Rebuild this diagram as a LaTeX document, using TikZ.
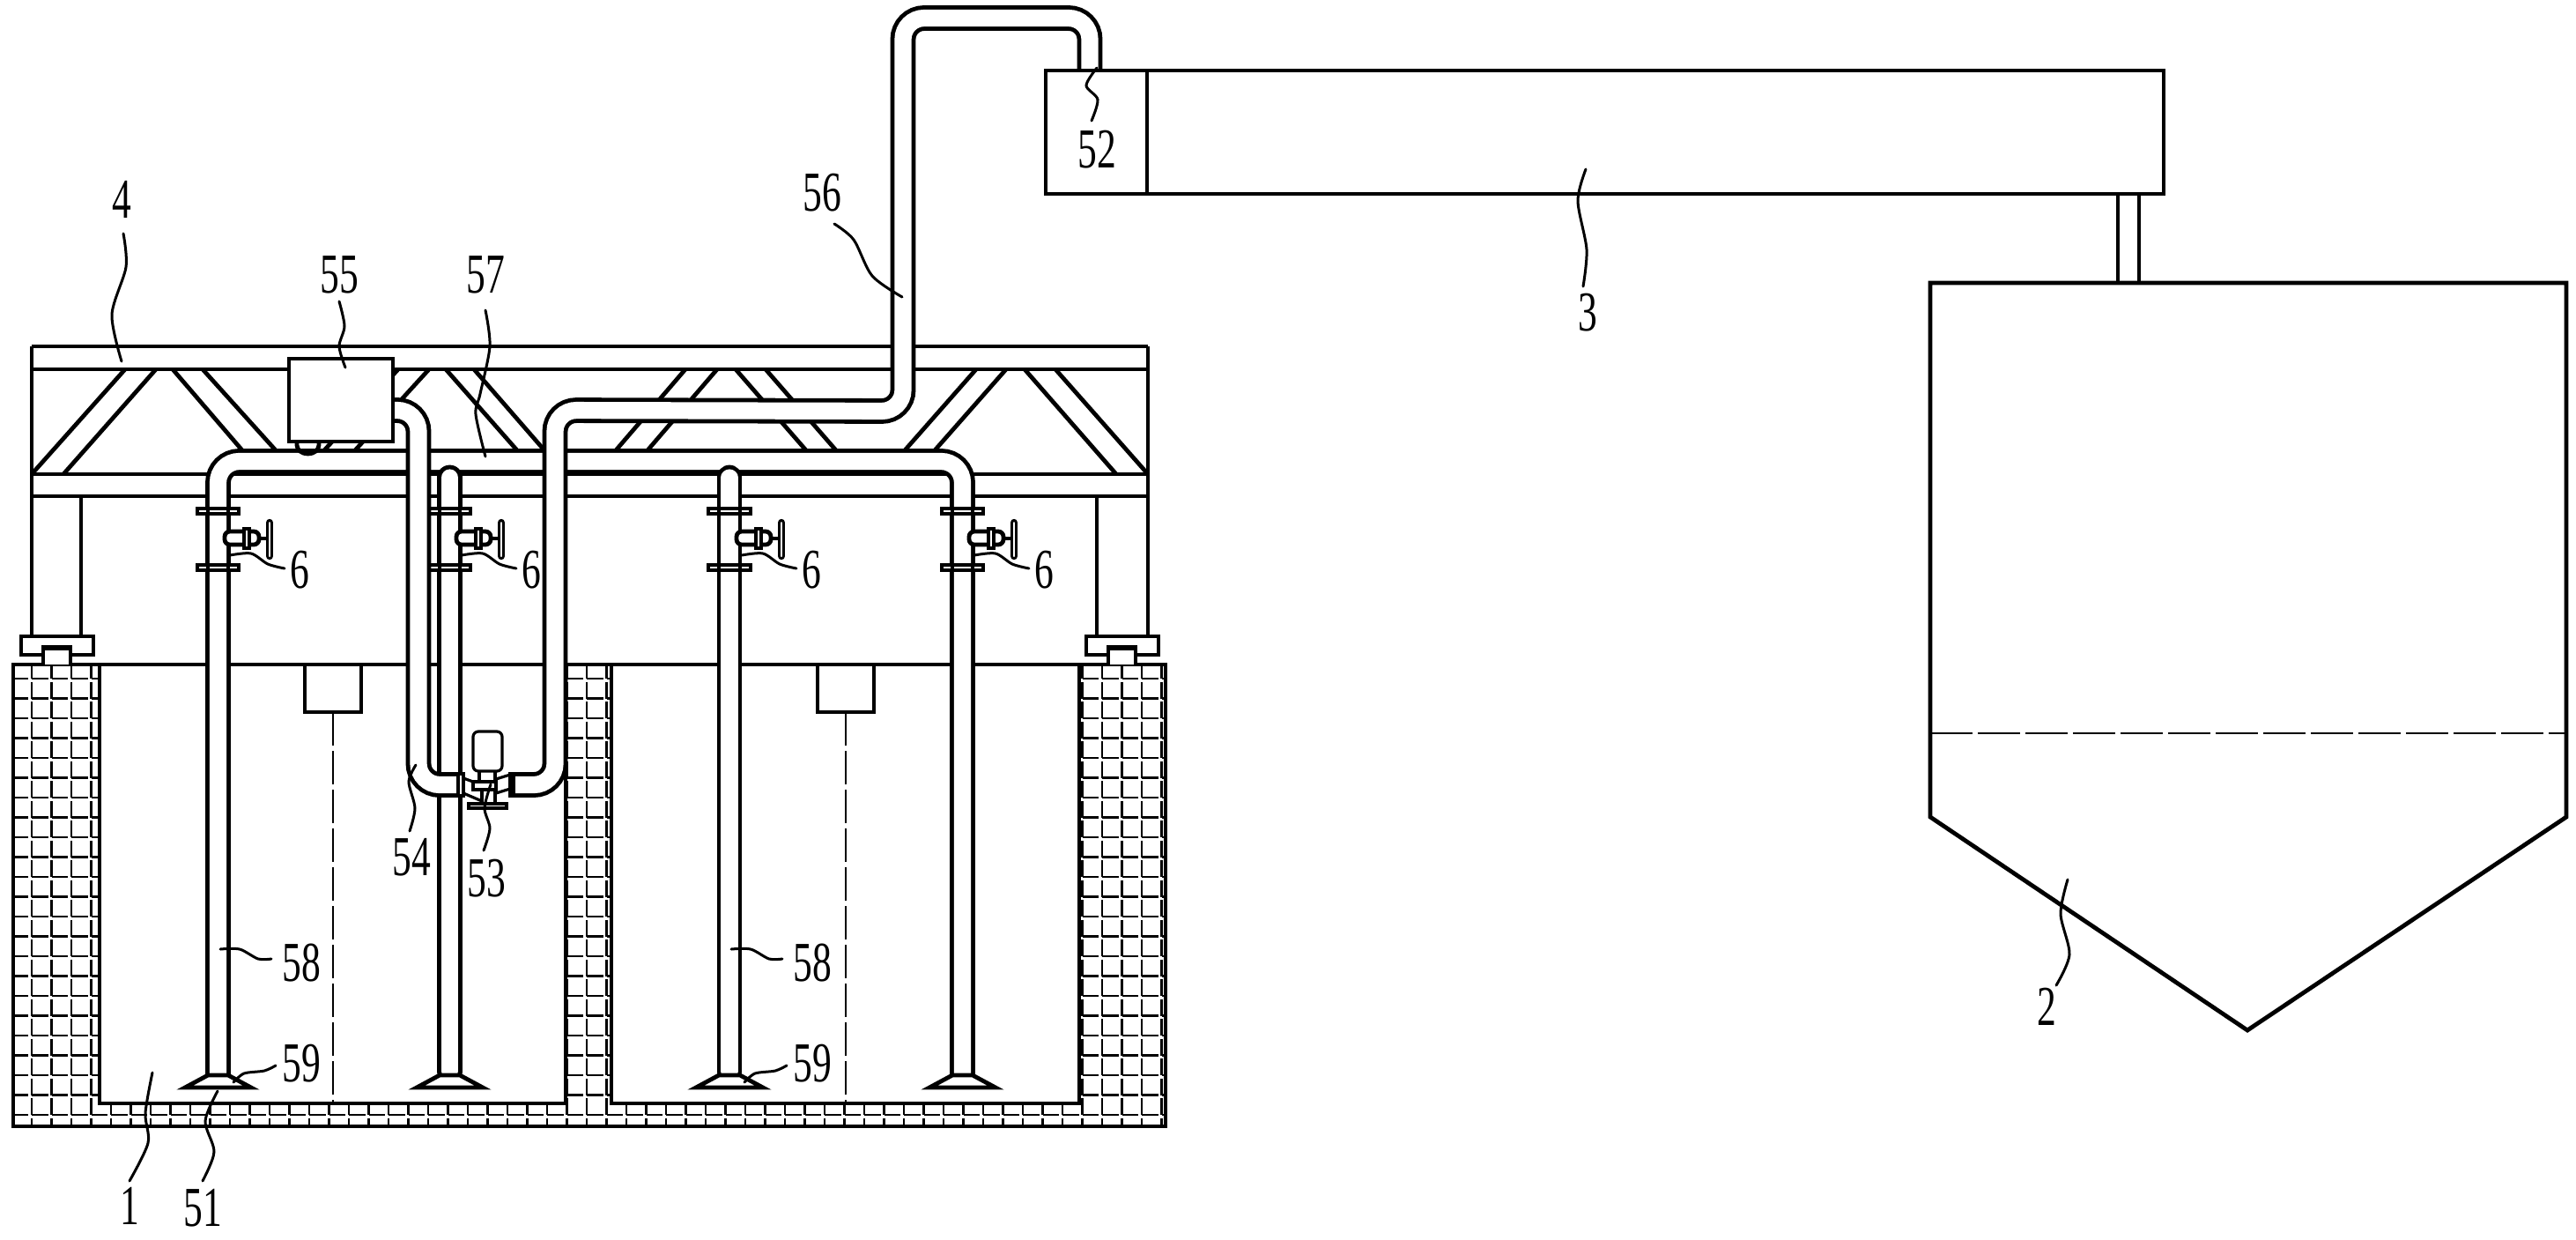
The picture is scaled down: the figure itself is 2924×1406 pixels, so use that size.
\documentclass[tikz,border=0pt]{standalone}
\usepackage{fontspec}
\setmainfont{Liberation Serif}
\begin{document}
\begin{tikzpicture}[x=0.25pt,y=-0.25pt,
    part/.style={line width=1.2pt},
    thinpart/.style={line width=0.8pt},
    brickline/.style={line width=0.65pt,dash pattern=on 4.7pt off 0.925pt},
    pipeline/.style={line width=1.2pt,double,double distance=4.8pt,rounded corners=6pt},
    handwheel/.style={line width=0.8pt,double,double distance=0.5pt,line cap=round},
    leader/.style={line width=0.75pt,line cap=round},
    centreline/.style={line width=0.7pt,dash pattern=on 9.5pt off 1.5pt},
    lbl/.style={font=\fontsize{16}{16}\selectfont,xscale=0.68,inner sep=0pt}]
  \useasboundingbox (0,0) rectangle (2924,1406);
  \begin{scope}
    \clip (15,754) rectangle (1323,1278);
    \foreach \k in {0,...,22}
      \draw[brickline] (13.5,770+22.5*\k) -- (1330,770+22.5*\k);
    \foreach \k in {0,...,57}
      \draw[brickline] (36+22.5*\k,751.2) -- (36+22.5*\k,1285);
  \end{scope}
  \draw[part,fill=white] (113,754) -- (113,1252) -- (642,1252) -- (642,754);
  \draw[part,fill=white] (694,754) -- (694,1252) -- (1225,1252) -- (1225,754);
  \draw[part] (15,754) rectangle (1323,1278);
  \foreach \cx in {378,960}{
    \draw[part,fill=white] (\cx-32,754) rectangle (\cx+32,808);
    \draw[centreline] (\cx,808) -- (\cx,1252);}
  \draw[part] (36,393) -- (1303,393) (36,419) -- (1303,419) (36,538) -- (1303,538) (36,563) -- (1303,563);
  \draw[part] (36,393) -- (36,722) (92,563) -- (92,722) (1303,393) -- (1303,722) (1245,563) -- (1245,722);
  \foreach \xa/\xb/\ya in {142/36/538,177/72/538,196/275/511,230/313/511,487/403/511,452/368/511,506/587/511,538/618/511,778/699/511,814/735/511,835/915/511,869/949/511,1108/1027/511,1142/1061/511,1163/1267/538,1198/1303/538}
    \draw[part] (\xa,419) -- (\xb,\ya);
  \foreach \bx/\tx in {24/49,1233/1258}{
    \draw[part,fill=white] (\bx,722) rectangle (\bx+82,743);
    \draw[part,fill=white] (\tx,754) -- (\tx,734) -- (\tx+31,734) -- (\tx+31,754);
    \draw[part] (\tx,736) -- (\tx+31,736);}
  \draw[pipeline] (247.5,1222) -- (247.5,523.5) -- (1092.5,523.5) -- (1092.5,1222);
  \draw[pipeline,line cap=round] (510.5,1215) -- (510.5,542);
  \draw[pipeline,line cap=round] (828,1215) -- (828,542);
  \foreach \lx/\rx in {236/259,499/522,816/840,1081/1104}{
    \draw[part,fill=white] (\lx-26,1234) -- (\lx,1220) -- (\rx,1220) -- (\rx+26,1234) -- cycle;
    \foreach \fy in {580,644}{
      \draw[part,fill=white] (\lx-12,\fy-3) rectangle (\rx+12,\fy+3);
      \draw[thinpart] (\lx,\fy-3) -- (\lx,\fy+3) (\rx,\fy-3) -- (\rx,\fy+3);}
    \draw[part,fill=white,rounded corners=1.5pt] (\rx-4,603) rectangle (\rx+35,618);
    \draw[part,fill=white] (\rx+18,600) rectangle (\rx+24,622);
    \draw[part] (\rx+35,611) -- (\rx+43,611);
    \draw[handwheel] (\rx+47,593) -- (\rx+47,631);}
  \draw[pipeline] (446,465.5) -- (475,465.5) -- (475,890.5) -- (522,890.5);
  \draw[pipeline] (582,890.5) -- (630,890.5) -- (630,465.5) -- (1025,466.5) -- (1025,20.5) -- (1237,20.5) -- (1237,80);
  \draw[part] (337,501) -- (337,505) arc[start angle=180,end angle=360,x radius=12.5,y radius=-10] -- (362,501);
  \draw[part,fill=white] (328,407) rectangle (446,501);
  \draw[thinpart,fill=white,rounded corners=1.5pt] (537,875) -- (537,830) -- (570,830) -- (570,875) -- cycle;
  \draw[part] (544,875) -- (544,885) (562,875) -- (562,885);
  \draw[thinpart,fill=white] (520,878) rectangle (526,903) (579,878) rectangle (583,903);
  \draw[thinpart] (526,883) -- (537,887) (526,900) -- (547,909) (579,879) -- (563,884) (579,895) -- (563,900);
  \draw[thinpart,fill=white] (537,887) rectangle (563,896);
  \draw[thinpart] (547,896) -- (547,912) (562,896) -- (562,912);
  \draw[thinpart,fill=white] (532,912) rectangle (575,917);
  \draw[part] (1187,80) rectangle (2456,220);
  \draw[part] (1302,80) -- (1302,220);
  \draw[part,fill=white] (2404,220) rectangle (2428,321);
  \draw[part] (2191,321) -- (2913,321) -- (2913,927) -- (2551,1169) -- (2191,927) -- cycle;
  \draw[line width=0.5pt,dash pattern=on 12pt off 1.5pt] (2191,832) -- (2913,832);
  \node[lbl] (numFour) at (138,226) {4};
  \node[lbl] (numPump) at (552,997) {53};
  \node[lbl] (numFiftyFour) at (467,973) {54};
  \node[lbl] (numBox) at (385,312) {55};
  \node[lbl] (numHeader) at (551,312) {57};
  \node[lbl] (numRiser) at (933,219) {56};
  \node[lbl] (numInlet) at (1245,170) {52};
  \node[lbl] (numDuct) at (1802,355) {3};
  \node[lbl] (numHopper) at (2323,1142) {2};
  \node[lbl] (numTank) at (147,1368) {1};
  \node[lbl] (numBed) at (230,1371) {51};
  \coordinate (endFour) at (138,410);
  \coordinate (endPump) at (557,890);
  \coordinate (endFiftyFour) at (472,868);
  \coordinate (endBox) at (392,417);
  \coordinate (endHeader) at (551,518);
  \coordinate (endRiser) at (1024,337);
  \coordinate (endInlet) at (1245,77);
  \coordinate (endDuct) at (1800,192);
  \coordinate (endHopper) at (2347,998);
  \coordinate (endTank) at (173,1217);
  \coordinate (endBed) at (247,1238);
  \draw[leader] plot[smooth] coordinates {(140,265) (143,303) (127,357) (endFour)};
  \draw[leader] plot[smooth] coordinates {(549,965) (556,940) (550,917) (endPump)};
  \draw[leader] plot[smooth] coordinates {(465,943) (471,917) (464,887) (endFiftyFour)};
  \draw[leader] plot[smooth] coordinates {(385,342) (391,370) (385,393) (endBox)};
  \draw[leader] plot[smooth] coordinates {(551,352) (556,393) (545,447) (540,470) (endHeader)};
  \draw[leader] plot[smooth] coordinates {(947,254) (969,272) (990,313) (endRiser)};
  \draw[leader] plot[smooth] coordinates {(1239,137) (1246,113) (1233,97) (endInlet)};
  \draw[leader] plot[smooth] coordinates {(1797,325) (1801,283) (1791,228) (endDuct)};
  \draw[leader] plot[smooth] coordinates {(2334,1118) (2349,1083) (2339,1037) (endHopper)};
  \draw[leader] plot[smooth] coordinates {(147,1340) (168,1297) (165,1263) (endTank)};
  \draw[leader] plot[smooth] coordinates {(230,1340) (243,1307) (233,1272) (endBed)};
  \foreach \s/\dx in {A/0,B/580}{
    \node[lbl] (numPipe\s) at (342+\dx,1093) {58};
    \node[lbl] (numFoot\s) at (342+\dx,1207) {59};
    \coordinate (endPipe\s) at (250+\dx,1077);
    \coordinate (endFoot\s) at (265+\dx,1228);
    \draw[leader] plot[smooth] coordinates {(308+\dx,1088) (293+\dx,1088) (272+\dx,1077) (endPipe\s)};
    \draw[leader] plot[smooth] coordinates {(313+\dx,1209) (300+\dx,1215) (277+\dx,1218) (endFoot\s)};}
  \foreach \s/\rx in {A/259,B/522,C/840,D/1104}{
    \node[lbl] (numValve\s) at (\rx+81,647) {6};
    \coordinate (endValve\s) at (\rx+2,630);
    \draw[leader] plot[smooth] coordinates {(\rx+64,645) (\rx+45,640) (\rx+26,628) (endValve\s)};}
\end{tikzpicture}
\end{document}
